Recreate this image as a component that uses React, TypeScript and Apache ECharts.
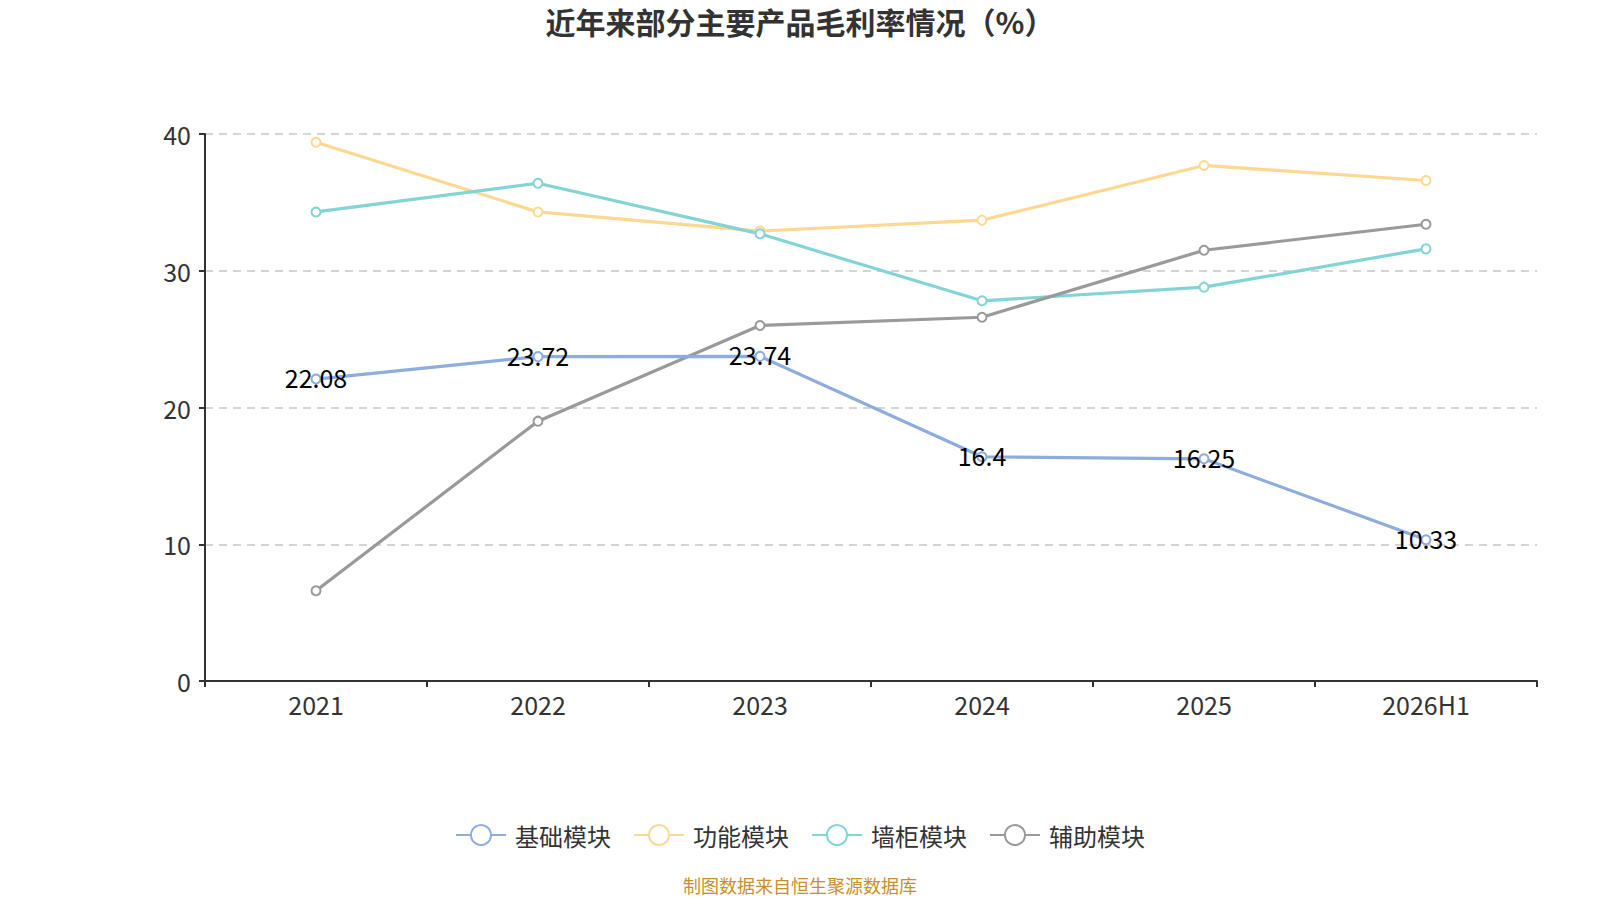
import React, { useEffect, useRef } from "react";
import * as echarts from "echarts";

const categories = ["2021", "2022", "2023", "2024", "2025", "2026H1"];
const seriesNames = ["基础模块", "功能模块", "墙柜模块", "辅助模块"];
const jichu = [22.08, 23.72, 23.74, 16.4, 16.25, 10.33];
const gongneng = [39.4, 34.3, 32.9, 33.7, 37.7, 36.6];
const qianggui = [34.3, 36.4, 32.7, 27.8, 28.8, 31.6];
const fuzhu = [6.6, 19.0, 26.0, 26.6, 31.5, 33.4];
const colors = ["#8eaddc", "#fdd892", "#82d4d5", "#9a9a9a"];

export default function App() {
  const ref = useRef<HTMLDivElement>(null);
  useEffect(() => {
    const chart = echarts.init(ref.current!, null, { renderer: "svg" });
    const font = "'Microsoft YaHei', 'Noto Sans CJK SC', 'Noto Sans', sans-serif";
    const data = [jichu, gongneng, qianggui, fuzhu];
    chart.setOption({
      animation: false,
      color: colors,
      textStyle: { fontFamily: font },
      title: {
        text: "近年来部分主要产品毛利率情况（%）",
        left: "center",
        top: 1,
        textStyle: { fontSize: 30, fontWeight: "bold", color: "#333", fontFamily: font },
      },
      legend: {
        bottom: 48,
        left: "center",
        itemWidth: 50,
        itemHeight: 25,
        itemGap: 22,
        textStyle: { fontSize: 24, color: "#333", fontFamily: font, padding: [0, 0, 0, 4] },
        data: seriesNames,
      },
      graphic: [
        {
          type: "text",
          left: "center",
          top: 876,
          style: { text: "制图数据来自恒生聚源数据库", fill: "#c8902a", fontSize: 18, fontFamily: font },
        },
      ],
      grid: { left: 205, right: 63, top: 134, bottom: 219 },
      xAxis: {
        type: "category",
        data: categories,
        boundaryGap: true,
        axisLine: { lineStyle: { color: "#333", width: 2 } },
        axisTick: { show: true, length: 6, lineStyle: { color: "#333", width: 2 } },
        axisLabel: { fontSize: 25, color: "#333", margin: 10, fontFamily: font },
      },
      yAxis: {
        type: "value",
        min: 0,
        max: 40,
        interval: 10,
        axisLine: { show: true, lineStyle: { color: "#333", width: 2 } },
        axisTick: { show: true, length: 6, lineStyle: { color: "#333", width: 2 } },
        axisLabel: { fontSize: 25, color: "#333", margin: 14, fontFamily: font },
        splitLine: { lineStyle: { type: [8, 6], color: "#c8c8c8", width: 1.5 } },
      },
      series: seriesNames.map((name, i) => ({
        name,
        type: "line",
        data: data[i],
        symbol: "emptyCircle",
        symbolSize: 9,
        lineStyle: { width: 3.2, color: colors[i] },
        itemStyle: { color: colors[i], borderWidth: 1.5 },
        label: i === 0
          ? { show: true, position: "inside", fontSize: 25, color: "#000", fontFamily: font, offset: [0, -2] }
          : { show: false },
        z: i === 0 ? 5 : 2,
      })),
    });
    return () => chart.dispose();
  }, []);
  return (
    <div
      ref={ref}
      style={{ position: "fixed", left: 0, top: 0, width: 1600, height: 900, background: "#fff" }}
    />
  );
}
